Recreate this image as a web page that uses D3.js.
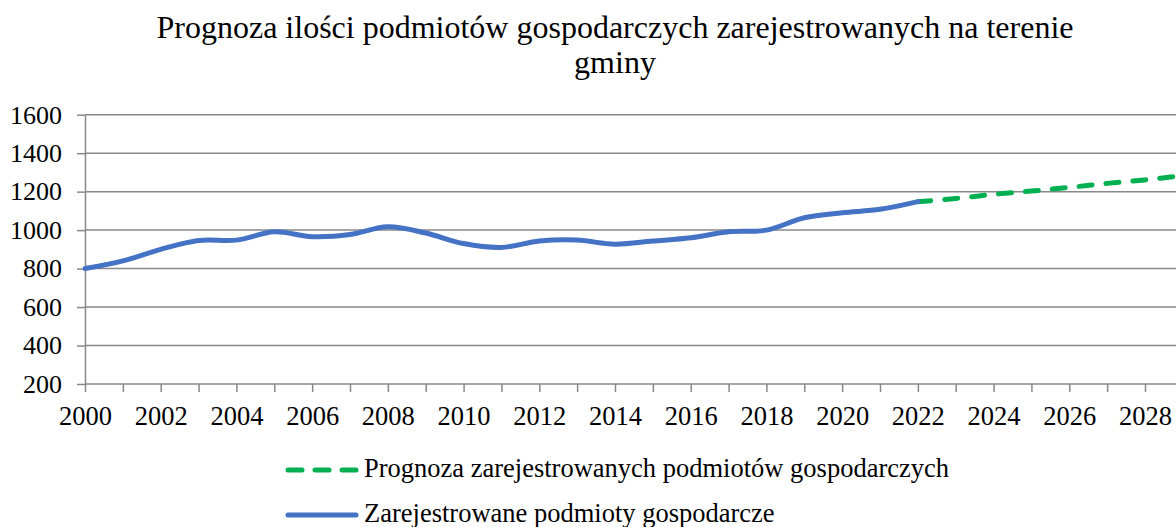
<!DOCTYPE html>
<html><head><meta charset="utf-8">
<script src="https://cdn.jsdelivr.net/npm/d3@7"></script>
<style>
html,body{margin:0;padding:0;background:#fff;}
</style></head>
<body><svg id="c" width="1176" height="527"></svg>
<script>
const titleLines = ["Prognoza ilości podmiotów gospodarczych zarejestrowanych na terenie", "gminy"];
const actualYears = [2000,2001,2002,2003,2004,2005,2006,2007,2008,2009,2010,2011,2012,2013,2014,2015,2016,2017,2018,2019,2020,2021,2022];
const actualValues = [800,840,900,946,948,991,966,977,1017,985,930,910,943,948,927,943,960,991,1000,1064,1090,1108,1148];
const forecastYears = [2022,2023,2024,2025,2026,2027,2028,2029];
const forecastValues = [1148,1164,1186,1203,1222,1243,1261,1283];
const yTicks = [200,400,600,800,1000,1200,1400,1600];
const xTickYears = d3.range(2000, 2029);
const xLabelYears = [2000,2002,2004,2006,2008,2010,2012,2014,2016,2018,2020,2022,2024,2026,2028];
const legendLabels = ["Prognoza zarejestrowanych podmiotów gospodarczych", "Zarejestrowane podmioty gospodarcze"];

const W = 1176, H = 527;
const FF = "Liberation Serif";
const svg = d3.select("#c");
const x = d3.scaleLinear().domain([2000, 2028]).range([85, 1145]);
const y = d3.scaleLinear().domain([200, 1600]).range([384, 114.7]);
const gridCol = "#888888";

function styleText(sel, size) {
  sel.attr("font-family", FF).attr("font-size", size).attr("fill", "#000")
     .style("font-family", FF).style("font-size", size + "px");
}

// title
styleText(svg.append("text").attr("x", 615).attr("y", 38).attr("text-anchor", "middle").text(titleLines[0]), 32);
styleText(svg.append("text").attr("x", 615).attr("y", 73).attr("text-anchor", "middle").text(titleLines[1]), 32);

// gridlines
svg.append("g").selectAll("line").data(yTicks.slice(1)).join("line")
  .attr("x1", x(2000)).attr("x2", W).attr("y1", d => y(d)).attr("y2", d => y(d))
  .attr("stroke", gridCol).attr("stroke-width", 1.5);

// y axis
const yAxis = svg.append("g").attr("transform", `translate(${x(2000)},0)`)
  .call(d3.axisLeft(y).tickValues(yTicks).tickSize(8).tickSizeOuter(0).tickPadding(15).tickFormat(d3.format("d")));
yAxis.attr("font-family", FF).attr("font-size", 26);
yAxis.select(".domain").attr("stroke", gridCol).attr("stroke-width", 1.5);
yAxis.selectAll(".tick line").attr("stroke", gridCol).attr("stroke-width", 1.5);
styleText(yAxis.selectAll("text"), 26);

// x axis
const xAxis = svg.append("g").attr("transform", `translate(0,${y(200)})`)
  .call(d3.axisBottom(x).tickValues(xTickYears).tickSize(8).tickSizeOuter(0).tickPadding(14)
    .tickFormat(d => xLabelYears.includes(d) ? String(d) : ""));
xAxis.attr("font-family", FF).attr("font-size", 26);
xAxis.select(".domain").attr("d", `M${x(2000)},0H${W}`).attr("stroke", gridCol).attr("stroke-width", 1.5);
xAxis.selectAll(".tick line").attr("stroke", gridCol).attr("stroke-width", 1.5);
styleText(xAxis.selectAll("text"), 26.5);

// lines
const line = d3.line().x(d => x(d[0])).y(d => y(d[1])).curve(d3.curveCatmullRom.alpha(0.5));
const actual = actualYears.map((d, i) => [d, actualValues[i]]);
const forecast = forecastYears.map((d, i) => [d, forecastValues[i]]);
svg.append("path").datum(forecast).attr("d", line).attr("fill", "none")
  .attr("stroke", "#00B050").attr("stroke-width", 5).attr("stroke-dasharray", "13,14")
  .attr("stroke-linecap", "round");
svg.append("path").datum(actual).attr("d", line).attr("fill", "none")
  .attr("stroke", "#4472C4").attr("stroke-width", 5).attr("stroke-linecap", "round");

// legend
const lg = svg.append("g");
lg.append("line").attr("x1", 288).attr("x2", 356).attr("y1", 470).attr("y2", 470)
  .attr("stroke", "#00B050").attr("stroke-width", 5).attr("stroke-dasharray", "14,13").attr("stroke-linecap", "round");
lg.append("line").attr("x1", 288).attr("x2", 356).attr("y1", 515).attr("y2", 515)
  .attr("stroke", "#4472C4").attr("stroke-width", 5).attr("stroke-linecap", "round");
styleText(lg.append("text").attr("x", 364).attr("y", 477).text(legendLabels[0]), 26.5);
styleText(lg.append("text").attr("x", 364).attr("y", 522).text(legendLabels[1]), 26.5);
</script></body></html>
